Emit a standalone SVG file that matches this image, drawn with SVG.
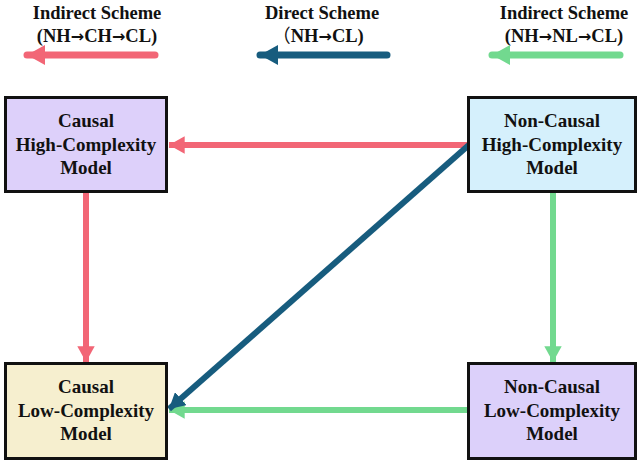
<svg xmlns="http://www.w3.org/2000/svg" width="638" height="465" viewBox="0 0 638 465">
<style>
text{font-family:"Liberation Serif","Times New Roman",serif;font-weight:bold;font-size:19px;fill:#111;text-anchor:middle}
.lg{font-size:18.5px}
.arw{font-family:"DejaVu Sans",sans-serif;font-size:16px}
.cjk{font-family:"Noto Sans CJK SC",sans-serif;font-weight:normal}
.box{stroke:#111;stroke-width:3}
.red{stroke:#F26676;fill:none;stroke-width:6}
.blue{stroke:#175C7E;fill:none;stroke-width:6}
.green{stroke:#72D98F;fill:none;stroke-width:6}
.leg{stroke-width:7;stroke-linecap:round}
</style>
<defs>
<marker id="ar" viewBox="0 0 10 10" refX="9" refY="5" markerWidth="2.9" markerHeight="2.9" orient="auto"><path d="M0,0L9,5L0,10z" fill="#F26676"/></marker>
<marker id="ab" viewBox="0 0 10 10" refX="9" refY="5" markerWidth="2.9" markerHeight="2.9" orient="auto"><path d="M0,0L9,5L0,10z" fill="#175C7E"/></marker>
<marker id="ag" viewBox="0 0 10 10" refX="9" refY="5" markerWidth="2.9" markerHeight="2.9" orient="auto"><path d="M0,0L9,5L0,10z" fill="#72D98F"/></marker>
</defs>
<g id="legend">
<text class="lg" x="97" y="19">Indirect Scheme</text>
<text class="lg" x="97" y="42">(NH<tspan class="arw">→</tspan>CH<tspan class="arw">→</tspan>CL)</text>
<line class="red leg" x1="155" y1="55" x2="27" y2="55" marker-end="url(#ar)"/>
<text class="lg" x="322" y="19">Direct Scheme</text>
<text class="lg" x="318" y="42"><tspan class="cjk">（</tspan>NH<tspan class="arw">→</tspan>CL)</text>
<line class="blue leg" x1="387" y1="55" x2="260" y2="55" marker-end="url(#ab)"/>
<text class="lg" x="564" y="19">Indirect Scheme</text>
<text class="lg" x="564" y="42">(NH<tspan class="arw">→</tspan>NL<tspan class="arw">→</tspan>CL)</text>
<line class="green leg" x1="620" y1="55" x2="492" y2="55" marker-end="url(#ag)"/>
</g>
<g id="connectors">
<line class="red" x1="468" y1="145" x2="169" y2="145" marker-end="url(#ar)"/>
<line class="red" x1="86" y1="193" x2="86" y2="362" marker-end="url(#ar)"/>
<line class="green" x1="553" y1="193" x2="553" y2="362" marker-end="url(#ag)"/>
<line class="green" x1="467" y1="410" x2="169" y2="410" marker-end="url(#ag)"/>
<line class="blue" x1="470" y1="144" x2="169" y2="409" marker-end="url(#ab)"/>
</g>
<g id="causal-high">
<rect class="box" x="5.5" y="97.5" width="161" height="94" fill="#DDD0FA"/>
<text x="86" y="127">Causal</text>
<text x="86" y="151">High-Complexity</text>
<text x="86" y="174">Model</text>
</g>
<g id="noncausal-high">
<rect class="box" x="468.5" y="97.5" width="167" height="94" fill="#D5F0FC"/>
<text x="552" y="127">Non-Causal</text>
<text x="552" y="151">High-Complexity</text>
<text x="552" y="174">Model</text>
</g>
<g id="causal-low">
<rect class="box" x="5.5" y="363.5" width="161" height="95" fill="#F6EFCF"/>
<text x="86" y="393">Causal</text>
<text x="86" y="417">Low-Complexity</text>
<text x="86" y="440">Model</text>
</g>
<g id="noncausal-low">
<rect class="box" x="468.5" y="363.5" width="167" height="95" fill="#DCD0FA"/>
<text x="552" y="393">Non-Causal</text>
<text x="552" y="417">Low-Complexity</text>
<text x="552" y="440">Model</text>
</g>
</svg>
